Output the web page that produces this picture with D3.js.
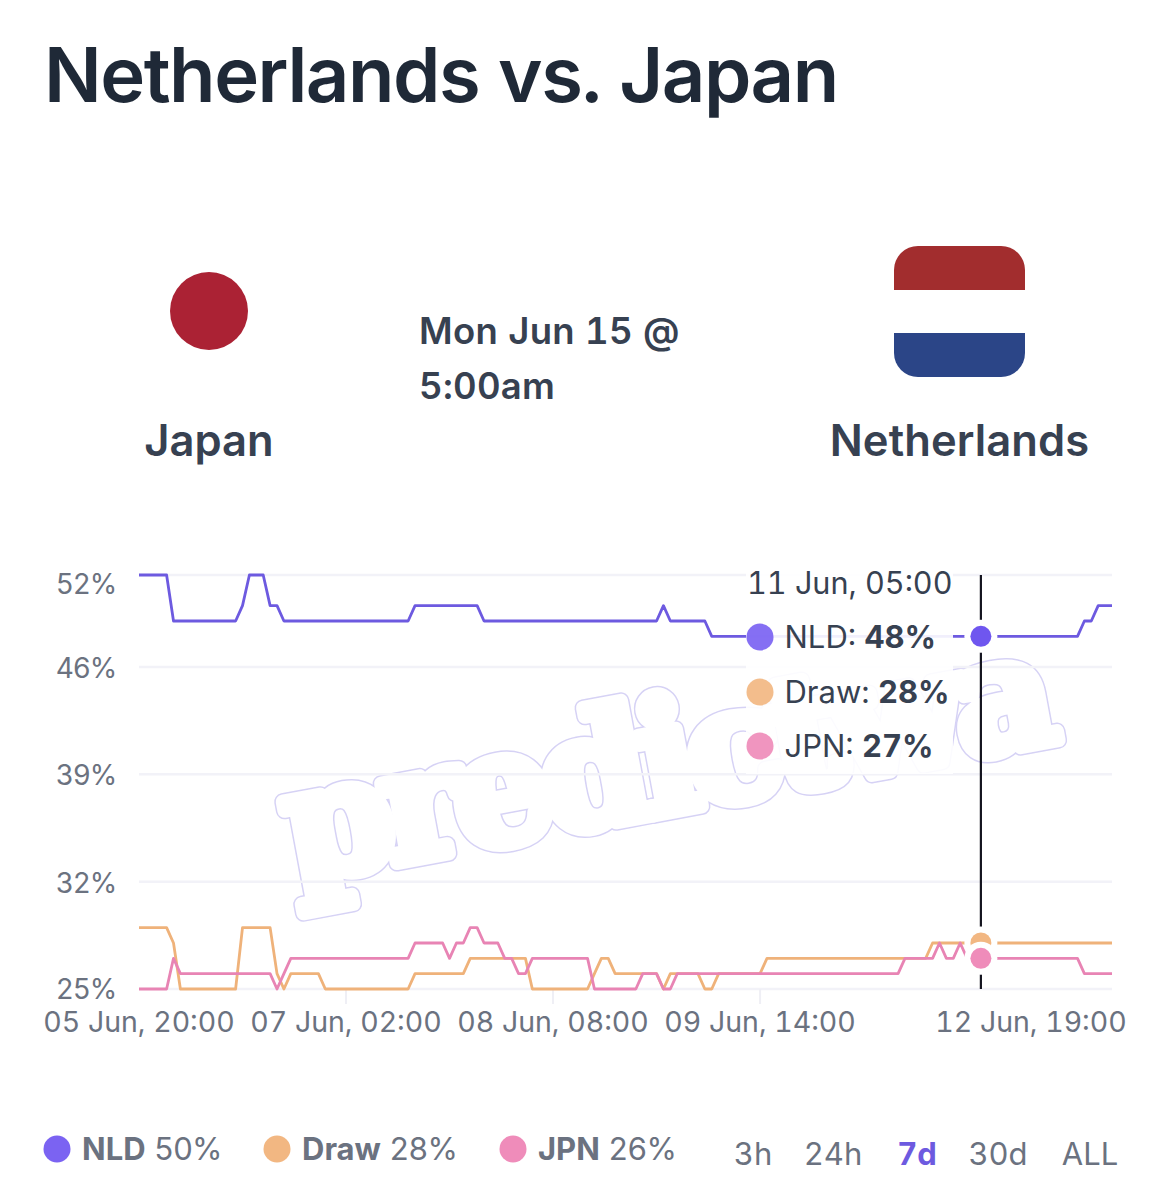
<!DOCTYPE html>
<html><head><meta charset="utf-8">
<style>
html,body{margin:0;padding:0;background:#fff;}
svg{display:block;font-family:Inter,"Liberation Sans",sans-serif;font-variant-numeric:tabular-nums;font-feature-settings:"tnum" 1;}
</style>
<script src="https://cdn.jsdelivr.net/npm/d3@7/dist/d3.min.js"></script>
</head><body><svg id="c" width="1169" height="1200"></svg>
<script>
const title="Netherlands vs. Japan";
const tickValues=[52,46,39,32,25];
const xTickIdx=[0,30,60,90];
const xTickLabels=["05 Jun, 20:00","07 Jun, 02:00","08 Jun, 08:00","09 Jun, 14:00"];
const lastLabel="12 Jun, 19:00";
const seriesNames=["NLD","Draw","JPN"];
const seriesColors=["#6d5ae0","#efb27a","#e884b4"];
const dotColors=["#7b63f2","#f2b782","#ef8cba"];
const legendValues=[50,28,26];
const tooltipValues=[48,28,27];
const ranges=["3h","24h","7d","30d","ALL"];
const hoverIndex=122;
const hoverLabel="11 Jun, 05:00";
const watermark="predictwa";
const nld=[52,52,52,52,52,49,49,49,49,49,49,49,49,49,49,50,52,52,52,50,50,49,49,49,49,49,49,49,49,49,49,49,49,49,49,49,49,49,49,49,50,50,50,50,50,50,50,50,50,50,49,49,49,49,49,49,49,49,49,49,49,49,49,49,49,49,49,49,49,49,49,49,49,49,49,49,50,49,49,49,49,49,49,48,48,48,48,48,48,48,48,48,48,48,48,48,48,48,48,48,48,48,48,48,48,48,48,48,48,48,48,48,48,48,48,48,48,48,48,48,48,48,48,48,48,48,48,48,48,48,48,48,48,48,48,48,48,49,49,50,50,50];
const draw=[29,29,29,29,29,28,25,25,25,25,25,25,25,25,25,29,29,29,29,29,26,25,26,26,26,26,26,25,25,25,25,25,25,25,25,25,25,25,25,25,26,26,26,26,26,26,26,26,27,27,27,27,27,27,27,27,27,25,25,25,25,25,25,25,25,25,26,27,27,26,26,26,26,26,26,26,25,26,26,26,26,26,25,25,26,26,26,26,26,26,26,27,27,27,27,27,27,27,27,27,27,27,27,27,27,27,27,27,27,27,27,27,27,27,27,28,28,28,28,28,28,28,28,28,28,28,28,28,28,28,28,28,28,28,28,28,28,28,28,28,28,28];
const jpn=[25,25,25,25,25,27,26,26,26,26,26,26,26,26,26,26,26,26,26,26,25,26,27,27,27,27,27,27,27,27,27,27,27,27,27,27,27,27,27,27,28,28,28,28,28,27,28,28,29,29,28,28,28,27,27,26,26,27,27,27,27,27,27,27,27,27,25,25,25,25,25,25,25,26,26,26,25,25,26,26,26,26,26,26,26,26,26,26,26,26,26,26,26,26,26,26,26,26,26,26,26,26,26,26,26,26,26,26,26,26,26,27,27,27,27,27,28,27,27,28,27,27,27,27,27,27,27,27,27,27,27,27,27,27,27,27,27,26,26,26,26,26];
const series=[nld,draw,jpn];

const svg=d3.select("#c");
const x=d3.scaleLinear().domain([0,nld.length-1]).range([139,1112]);
const y=d3.scaleLinear().domain([25,52]).range([989,575]);

// heading
svg.append("text").attr("x",44).attr("y",102).attr("font-size",76).attr("font-weight",600).attr("letter-spacing",-1.5).attr("fill","#1f2937").text(title);
svg.append("circle").attr("cx",209).attr("cy",311).attr("r",39).attr("fill","#ab2234");
const clip=svg.append("clipPath").attr("id","flag");
clip.append("rect").attr("x",894).attr("y",246).attr("width",131).attr("height",131).attr("rx",24);
const flag=svg.append("g").attr("clip-path","url(#flag)");
[["#a22d2e",246],["#ffffff",290],["#2b4587",333]].forEach(([c,t])=>flag.append("rect").attr("x",894).attr("y",t).attr("width",131).attr("height",44).attr("fill",c));
const headText=(t,xp,yp)=>svg.append("text").attr("x",xp).attr("y",yp).attr("font-size",36.5).attr("font-weight",600).attr("letter-spacing",0.3).attr("fill","#374151").text(t);
headText("Mon Jun 15 @",419,344);
headText("5:00am",419,399);
svg.append("text").attr("x",209).attr("y",456).attr("text-anchor","middle").attr("font-size",43.5).attr("font-weight",600).attr("fill","#374151").text("Japan");
svg.append("text").attr("x",959.5).attr("y",456).attr("text-anchor","middle").attr("font-size",43.5).attr("font-weight",600).attr("letter-spacing",0.1).attr("fill","#374151").text("Netherlands");

// watermark
const wm=svg.append("g").attr("transform","translate(294,882) rotate(-10.5)").attr("font-family","'DejaVu Serif'").attr("font-weight",700).attr("font-size",156).attr("letter-spacing",-10);
wm.append("text").text(watermark).attr("fill","#fff").attr("stroke","#d6d2f5").attr("stroke-width",17).attr("stroke-linejoin","round");
wm.append("text").text(watermark).attr("fill","#fff").attr("stroke","#fff").attr("stroke-width",14).attr("stroke-linejoin","round");

// grid
svg.append("g").selectAll("line").data(tickValues).join("line")
 .attr("x1",139).attr("x2",1112).attr("y1",d=>y(d)).attr("y2",d=>y(d)).attr("stroke","#f2f2f8").attr("stroke-width",2.5);
svg.append("g").selectAll("text").data(tickValues).join("text")
 .attr("x",116).attr("y",d=>y(d)+(d===52?19:(d===25?10:11))).attr("text-anchor","end").attr("font-size",28).attr("letter-spacing",-1.2).attr("fill","#6b7280").text(d=>d+"%");
svg.append("g").selectAll("line").data(xTickIdx.slice(1)).join("line")
 .attr("x1",d=>x(d)).attr("x2",d=>x(d)).attr("y1",989).attr("y2",1004).attr("stroke","#efeff5").attr("stroke-width",2);
svg.append("g").selectAll("text").data(xTickIdx).join("text")
 .attr("x",d=>x(d)).attr("y",1032).attr("text-anchor","middle").attr("font-size",28.5).attr("fill","#6b7280").text((d,i)=>xTickLabels[i]);
svg.append("text").attr("x",1031).attr("y",1032).attr("text-anchor","middle").attr("font-size",28.5).attr("fill","#6b7280").text(lastLabel);

// crosshair and lines
svg.append("line").attr("x1",x(hoverIndex)).attr("x2",x(hoverIndex)).attr("y1",575).attr("y2",989).attr("stroke","#14141f").attr("stroke-width",2.2);
const line=d3.line().x((d,i)=>x(i)).y(d=>y(d));
series.forEach((s,k)=>svg.append("path").attr("d",line(s)).attr("fill","none").attr("stroke",seriesColors[k]).attr("stroke-width",2.8).attr("stroke-linejoin","round"));
series.forEach((s,k)=>{
  svg.append("circle").attr("cx",x(hoverIndex)).attr("cy",y(s[hoverIndex])).attr("r",16.5).attr("fill","#fff");
  svg.append("circle").attr("cx",x(hoverIndex)).attr("cy",y(s[hoverIndex])).attr("r",10.5).attr("fill",k===0?"#6f56ef":dotColors[k]);
});

// tooltip
svg.append("rect").attr("x",746).attr("y",562).attr("width",207).attr("height",212).attr("fill","#fff").attr("fill-opacity",.9);
svg.append("text").attr("x",747).attr("y",594).attr("font-size",30.6).attr("fill","#374151").text(hoverLabel);
const tipY=[637,692,746];
seriesNames.forEach((n,i)=>{
  svg.append("circle").attr("cx",760).attr("cy",tipY[i]).attr("r",13.5).attr("fill",dotColors[i]).attr("fill-opacity",.92);
  const t=svg.append("text").attr("x",784.5).attr("y",tipY[i]+11).attr("font-size",31).attr("fill","#374151");
  t.append("tspan").text(n+": ");
  t.append("tspan").attr("font-weight",700).text(tooltipValues[i]+"%");
});

// legend
const legX=[57,277,513], legT=[82,302,538];
seriesNames.forEach((n,i)=>{
  svg.append("circle").attr("cx",legX[i]).attr("cy",1149).attr("r",13.5).attr("fill",dotColors[i]);
  const t=svg.append("text").attr("x",legT[i]).attr("y",1160).attr("font-size",31).attr("fill","#6b7280");
  t.append("tspan").attr("font-weight",700).text(n+" ");
  t.append("tspan").attr("letter-spacing",-1).text(legendValues[i]+"%");
});
const rangeX=[753,833,917,998,1090];
ranges.forEach((r,i)=>svg.append("text").attr("x",rangeX[i]).attr("y",1165).attr("text-anchor","middle").attr("font-size",31)
  .attr("font-weight",r==="7d"?700:400).attr("fill",r==="7d"?"#6d5ae0":"#6b7280").text(r));
</script></body></html>
